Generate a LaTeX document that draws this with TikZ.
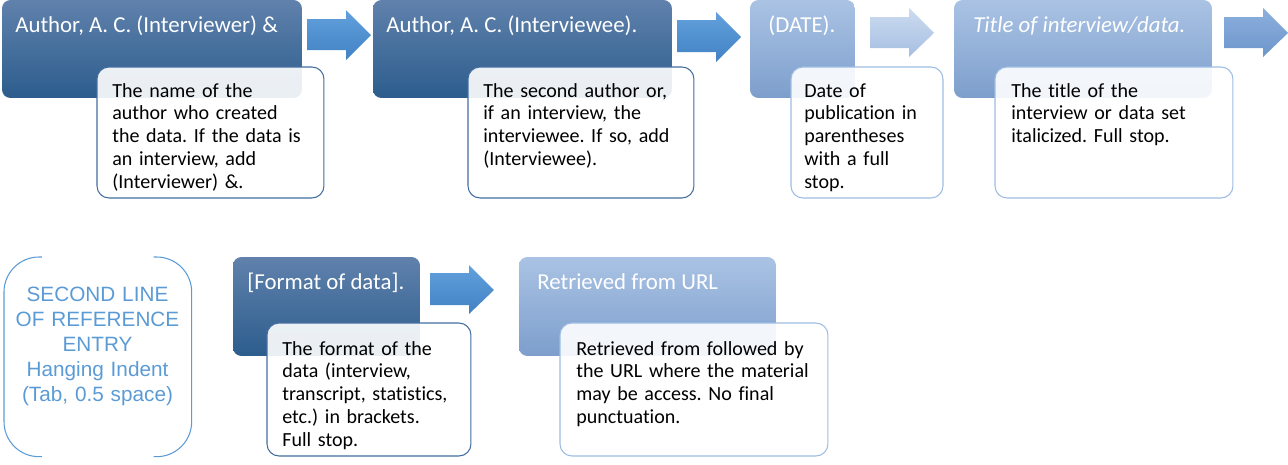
\documentclass[tikz,border=0pt]{standalone}
\usepackage{fontspec}
\setmainfont{Carlito}[Ligatures=CommonOff]
\newfontfamily\arialfont{Liberation Sans}
\definecolor{darktop}{RGB}{96,129,172}
\definecolor{darkbot}{RGB}{44,93,141}
\definecolor{lighttop}{RGB}{170,195,228}
\definecolor{lightbot}{RGB}{125,158,204}
\definecolor{arrtop}{RGB}{98,161,220}
\definecolor{arrbot}{RGB}{66,129,196}
\definecolor{paletop}{RGB}{204,219,240}
\definecolor{palebot}{RGB}{166,191,225}
\definecolor{midtop}{RGB}{140,175,221}
\definecolor{midbot}{RGB}{110,150,204}
\definecolor{darkline}{RGB}{68,110,160}
\definecolor{lightline}{RGB}{158,189,226}
\definecolor{noteblue}{RGB}{91,155,213}
\frenchspacing

\begin{document}
\begin{tikzpicture}[x=0.02cm,y=-0.02cm,
	box/.style={anchor=north west, inner sep=0, outer sep=0, rounded corners=0.17cm, minimum height=1.96cm},
	darkbox/.style={box, top color=darktop, bottom color=darkbot},
	lightbox/.style={box, top color=lighttop, bottom color=lightbot},
	boxtext/.style={anchor=base west, inner sep=0, text=white, font=\fontsize{13}{15}\selectfont},
	desc/.style={anchor=north west, inner sep=0, outer sep=0, rounded corners=0.24cm, fill=white, fill opacity=0.9, line width=0.6pt, minimum height=2.62cm},
	descdark/.style={desc, draw=darkline},
	desclight/.style={desc, draw=lightline},
	desctext/.style={anchor=base west, inner sep=0, text width=6cm, align=left, font=\fontsize{11.4}{13}\selectfont},
	arrA/.style={top color=arrtop, bottom color=arrbot},
	arrB/.style={top color=paletop, bottom color=palebot},
	arrC/.style={top color=midtop, bottom color=midbot}]
	\useasboundingbox (0,0) rectangle (1288,464);

	% First row: boxes
	\node[darkbox, minimum width=6cm] (author) at (2,0) {};
	\node[darkbox, minimum width=5.98cm] (interviewee) at (373,0) {};
	\node[lightbox, minimum width=2.1cm] (date) at (750,0) {};
	\node[lightbox, minimum width=5.16cm] (title) at (954,0) {};

	\node[boxtext] (authort) at (15,32) {Author, A. C. (Interviewer) \&};
	\node[boxtext] (intervieweet) at (386,32) {Author, A. C. (Interviewee).};
	\node[boxtext] (datet) at (768,32) {(DATE).};
	\node[boxtext] (titlet) at (973,32) {\itshape Title of interview/data.};

	% First row: block arrows
	\shade[arrA] (307,19) -- (346,19) -- (346,10) -- (371,35) -- (346,60) -- (346,50) -- (307,50) -- cycle;
	\shade[arrA] (677,20) -- (716,20) -- (716,12) -- (741,37) -- (716,62) -- (716,52) -- (677,52) -- cycle;
	\shade[arrB] (870,17) -- (909,17) -- (909,8) -- (934,33) -- (909,57) -- (909,48) -- (870,48) -- cycle;
	\shade[arrC] (1224,17) -- (1263,17) -- (1263,8) -- (1288,33) -- (1263,57) -- (1263,48) -- (1224,48) -- cycle;

	% First row: descriptions
	\node[descdark, minimum width=4.54cm] (authord) at (97,67) {};
	\node[descdark, minimum width=4.52cm] (intervieweed) at (468,67) {};
	\node[desclight, minimum width=3.04cm] (dated) at (791,67) {};
	\node[desclight, minimum width=4.76cm] (titled) at (995,67) {};

	\node[desctext] (authordt) at (112,97) {The name of the\\author who created\\the data. If the data is\\an interview, add\\(Interviewer) \&.};
	\node[desctext] (intervieweedt) at (483,97) {The second author or,\\if an interview, the\\interviewee. If so, add\\(Interviewee).};
	\node[desctext] (datedt) at (804,97) {Date of\\publication in\\parentheses\\with a full\\stop.};
	\node[desctext] (titledt) at (1011,97) {The title of the\\interview or data set\\italicized. Full stop.};

	% Second row: hanging indent note
	\node[anchor=north west, inner sep=0, minimum width=3.74cm, minimum height=3.98cm] (second) at (4,257) {};
	\draw[noteblue, line width=0.6pt, rounded corners=0.7cm] ([xshift=0.76cm]second.north west) -- (second.north west) -- (second.south west) -- ([xshift=0.76cm]second.south west);
	\draw[noteblue, line width=0.6pt, rounded corners=0.7cm] ([xshift=-0.76cm]second.north east) -- (second.north east) -- (second.south east) -- ([xshift=-0.76cm]second.south east);
	\node[anchor=base, inner sep=0, text width=3.7cm, align=center, text=noteblue, font=\arialfont\fontsize{11.8}{14.3}\selectfont] (secondt) at (97.5,301) {SECOND LINE\\OF REFERENCE\\ENTRY\\Hanging Indent\\(Tab, 0.5 space)};

	% Second row: boxes
	\node[darkbox, minimum width=3.74cm, minimum height=1.98cm] (format) at (233,257) {};
	\node[lightbox, minimum width=5.14cm, minimum height=1.98cm] (retrieved) at (519,257) {};
	\node[boxtext] (formatt) at (247,289) {[Format of data].};
	\node[boxtext] (retrievedt) at (537,289) {Retrieved from URL};

	\shade[arrA] (430,273) -- (469,273) -- (469,265) -- (494,290) -- (469,314) -- (469,305) -- (430,305) -- cycle;

	% Second row: descriptions
	\node[descdark, minimum width=4.08cm, minimum height=2.66cm] (formatd) at (267,323) {};
	\node[desclight, minimum width=5.36cm, minimum height=2.66cm] (retrievedd) at (560,323) {};

	\node[desctext] (formatdt) at (282,355) {The format of the\\data (interview,\\transcript, statistics,\\etc.) in brackets.\\Full stop.};
	\node[desctext] (retrieveddt) at (576,355) {Retrieved from followed by\\the URL where the material\\may be access. No final\\punctuation.};
\end{tikzpicture}
\end{document}
